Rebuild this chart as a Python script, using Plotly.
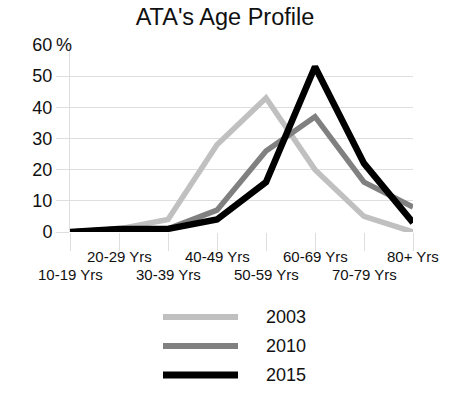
import plotly.graph_objects as go

categories = ["10-19 Yrs", "20-29 Yrs", "30-39 Yrs", "40-49 Yrs",
              "50-59 Yrs", "60-69 Yrs", "70-79 Yrs", "80+ Yrs"]
years = ["2003", "2010", "2015"]
v2003 = [0, 1, 4, 28, 43, 20, 5, 0]
v2010 = [0, 1, 1, 7, 26, 37, 16, 8]
v2015 = [0, 1, 1, 4, 16, 53, 22, 3]
yticks = [0, 10, 20, 30, 40, 50, 60]

series = [v2003, v2010, v2015]
colors = ["#c0c0c0", "#808080", "#000000"]
widths = [5.5, 5.5, 6.5]

FONT = "Liberation Sans, Arial, sans-serif"
fig = go.Figure()
xs = list(range(len(categories)))
for name, vals, c, w in zip(years, series, colors, widths):
    fig.add_trace(go.Scatter(x=xs, y=vals, mode="lines", name=name,
                             line=dict(color=c, width=w), cliponaxis=False,
                             showlegend=False, hoverinfo="skip"))

grid = "#dedede"
fig.update_layout(
    width=450, height=393,
    margin=dict(l=70, r=37, t=45, b=161),
    paper_bgcolor="white", plot_bgcolor="white",
    font=dict(family=FONT, color="#1a1a1a"),
    title=dict(text="ATA's Age Profile", x=0.5, xanchor="center",
               y=1 - 17 / 393, yanchor="middle", font=dict(size=23.5, color="#111")),
    xaxis=dict(range=[0, len(categories) - 1], tickvals=xs, showticklabels=False,
               ticks="outside", ticklen=18, tickcolor=grid, tickwidth=1,
               showgrid=False, zeroline=False, showline=False),
    yaxis=dict(range=[0, 60], tickvals=yticks, ticktext=[str(t) for t in yticks],
               ticks="outside", ticklen=13, tickcolor=grid, tickwidth=1,
               showgrid=True, gridcolor=grid, gridwidth=1, zeroline=False,
               showline=True, linecolor=grid, linewidth=1,
               tickfont=dict(size=18, color="#111")),
)
# "%" unit next to top tick
fig.add_annotation(x=0, xref="paper", y=60, yref="y", text="%", showarrow=False,
                   xanchor="center", yanchor="middle", xshift=-6,
                   font=dict(size=18, color="#111"))
# staggered category labels
for i, cat in enumerate(categories):
    fig.add_annotation(x=i, xref="x", y=0, yref="y", text=cat, showarrow=False,
                       xanchor="center", yanchor="middle",
                       yshift=-24 if i % 2 == 1 else -42,
                       font=dict(size=15, color="#111"))
# manual legend
ly = [317, 346, 375]
for name, c, w, yy in zip(years, colors, widths, ly):
    fig.add_shape(type="line", xref="paper", yref="paper",
                  x0=(163 - 70) / 343, x1=(238 - 70) / 343,
                  y0=(393 - yy - 161) / 187, y1=(393 - yy - 161) / 187,
                  line=dict(color=c, width=w + 0.5))
    fig.add_annotation(xref="paper", yref="paper", x=(264 - 70) / 343,
                       y=(393 - yy - 161) / 187, text=name, showarrow=False,
                       xanchor="left", yanchor="middle",
                       font=dict(size=18, color="#111"))

fig.write_html("out.html", config={"displayModeBar": False},
               post_script="document.body.style.margin='0';document.body.style.overflow='hidden';")
